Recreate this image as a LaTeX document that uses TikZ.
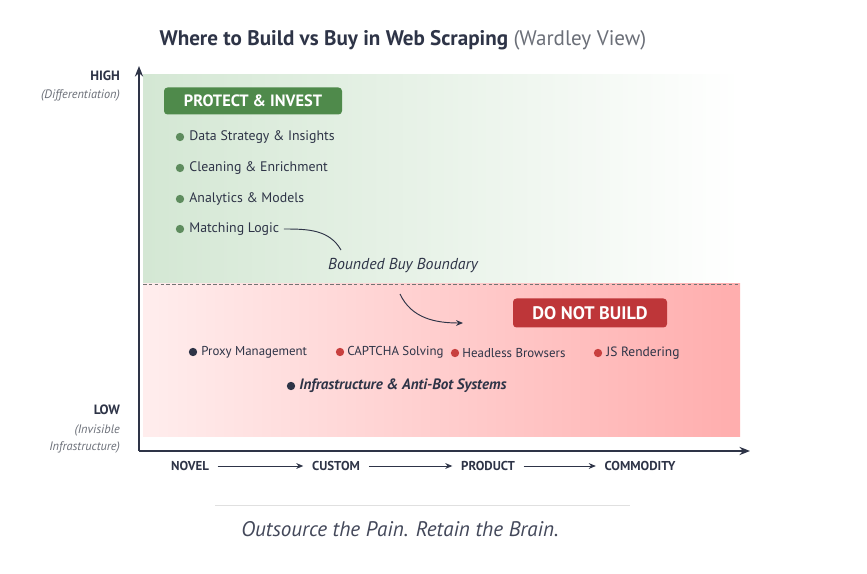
\documentclass[tikz,border=0pt]{standalone}
\usepackage{fontspec}
\setmainfont{PT Sans}
\usetikzlibrary{positioning,arrows.meta}
\definecolor{investgreen}{HTML}{4F8A4B}
\definecolor{dotgreen}{HTML}{5E8C5E}
\definecolor{buildred}{HTML}{BE3639}
\definecolor{dotred}{HTML}{C8403F}
\definecolor{navy}{HTML}{2E3447}
\definecolor{labelgray}{HTML}{6B6F78}

\begin{document}
\begin{tikzpicture}[x=0.3mm,y=-0.3mm,
  box/.style={rounded corners=3pt,text=white,font=\bfseries\fontsize{14}{16}\selectfont},
  item/.style={anchor=west,inner sep=1pt,text=navy,font=\fontsize{11.8}{13}\selectfont},
  dot/.style={circle,inner sep=0pt,minimum size=2.5mm},
  stage/.style={text=navy,font=\bfseries\fontsize{11}{13}\selectfont},
  axislabel/.style={align=right,anchor=east,text=navy,font=\bfseries\fontsize{11.5}{13}\selectfont},
  note/.style={align=right,anchor=east,text=labelgray,font=\itshape\fontsize{10.5}{14}\selectfont},
  flow/.style={navy,thick,-{Stealth[length=6pt,width=5pt]}}]
    \useasboundingbox (0,0) rectangle (867,574);
    \fill[white] (0,0) rectangle (867,574);
    % zones
    \shade[left color=green!45!black!17,middle color=green!45!black!5,right color=white,shading angle=90]
      (143,75) rectangle (740,284);
    \shade[left color=red!7,middle color=red!12,right color=red!32] (143,284) rectangle (740,437);
    \draw[dashed,black!55,thick,dash pattern=on 3pt off 2pt] (143,284) -- (740,284);
    % axes
    \draw[navy,line width=1.6pt,-{Stealth[length=9pt,width=7pt]}] (139,451) -- (139,66);
    \draw[navy,line width=1.6pt,-{Stealth[length=9pt,width=7pt]}] (139,451) -- (750,451);
    % title
    \node (title) at (403,40)
      {\fontsize{18}{21}\selectfont\bfseries\color{navy}Where to Build vs Buy in Web Scraping
       \mdseries\color{labelgray}(Wardley View)};
    \node (high) [axislabel] at (124,76) {HIGH};
    \node (high_note) [note] at (124,95) {(Differentiation)};
    \node (low) [axislabel] at (124,410) {LOW};
    \node (low_note) [note] at (124,439) {(Invisible\\Infrastructure)};
    % protect & invest
    \node (protect_box) [box,fill=investgreen,minimum width=53.4mm,minimum height=8.1mm]
      at (253,101) {PROTECT \& INVEST};
    \foreach \y/\name/\txt in {137/data_strategy/Data Strategy \& Insights,
                              168/cleaning/Cleaning \& Enrichment,
                              199/analytics/Analytics \& Models,
                              229/matching_logic/Matching Logic} {
      \node (dot_\name) [dot,fill=dotgreen] at (180,\y) {};
      \node (\name) [item] at (188,\y) {\txt};
    }
    \node (boundary_label) [text=navy,font=\itshape\fontsize{13.5}{15}\selectfont]
      at (403,266) {Bounded Buy Boundary};
    \coordinate (boundary_top) at (341,250);
    \draw[navy,thick] ([xshift=3pt]matching_logic.east) to[out=0,in=120] (boundary_top);
    \coordinate (arrow_start) at (400,294);
    \coordinate (arrow_end) at (463,323);
    \draw[flow] (arrow_start) to[out=-65,in=180] (arrow_end);
    % do not build
    \node (build_box) [box,fill=buildred,minimum width=46.2mm,minimum height=8.7mm,
      font=\bfseries\fontsize{15.5}{17}\selectfont]
      at (590,313) {DO NOT BUILD};
    \node (dot_proxy) [dot,fill=navy] at (193,352) {};
    \node (proxy) [item,font=\fontsize{11}{13}\selectfont] at (200,352) {Proxy Management};
    \node (dot_captcha) [dot,fill=dotred] at (340,352) {};
    \node (captcha) [item,font=\fontsize{11}{13}\selectfont] at (346,352) {CAPTCHA Solving};
    \node (dot_headless) [dot,fill=dotred] at (455,353) {};
    \node (headless) [item,font=\fontsize{11}{13}\selectfont] at (461,353) {Headless Browsers};
    \node (dot_js) [dot,fill=dotred] at (598,353) {};
    \node (js) [item,font=\fontsize{11.5}{13}\selectfont] at (605,353) {JS Rendering};
    \node (dot_infra) [dot,fill=navy] at (291,386) {};
    \node (infra) [item,font=\bfseries\itshape\fontsize{12.8}{14}\selectfont] at (298,386)
      {Infrastructure \& Anti-Bot Systems};
    % evolution stages
    \node (novel) [stage] at (190,466) {NOVEL};
    \node (custom) [stage] at (336,466) {CUSTOM};
    \node (product) [stage] at (488,466) {PRODUCT};
    \node (commodity) [stage] at (640,466) {COMMODITY};
    \draw[flow] ([xshift=4pt]novel.east) -- ([xshift=-4pt]custom.west);
    \draw[flow] ([xshift=4pt]custom.east) -- ([xshift=-4pt]product.west);
    \draw[flow] ([xshift=4pt]product.east) -- ([xshift=-4pt]commodity.west);
    % tagline
    \draw[black!12,line width=0.8pt] (215,505) -- (630,505);
    \node (tagline) [text=navy!90,font=\itshape\fontsize{18}{21}\selectfont] at (400,529)
      {Outsource the Pain. Retain the Brain.};
\end{tikzpicture}
\end{document}
